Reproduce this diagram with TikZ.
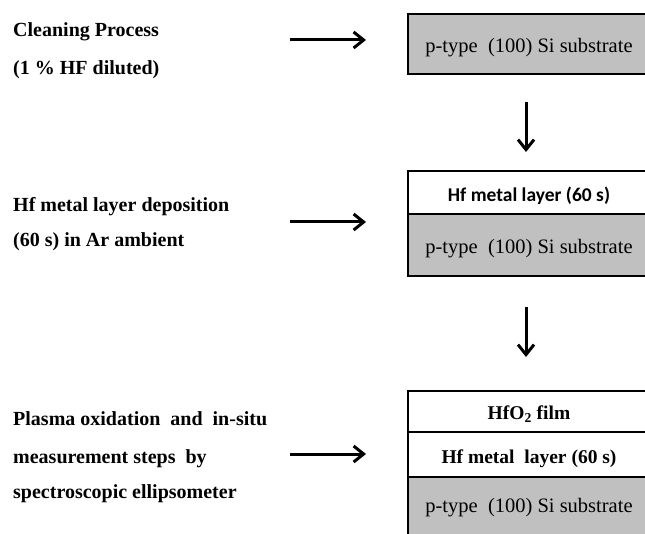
\documentclass[tikz,border=0pt]{standalone}
\usepackage{fontspec}
\setmainfont{Liberation Serif}
\newfontfamily\calfont{Carlito}
\usetikzlibrary{arrows.meta, positioning}
\definecolor{wafergray}{RGB}{192,192,192}
\tikzset{
    steptext/.style={anchor=base west, inner sep=0pt, font=\fontsize{20}{24}\selectfont\bfseries},
    layer/.style={draw, line width=2.7pt, minimum width=242pt, inner sep=0pt, outer sep=0pt, text height=17pt, text depth=0pt},
    oxlayer/.style={layer, font=\fontsize{19.5}{24}\selectfont\bfseries},
    wafer/.style={layer, fill=wafergray, minimum height=60pt, font=\fontsize{20.5}{24}\selectfont},
    flow/.style={line width=3pt, -{Straight Barb[length=10pt,width=16pt]}},
}

\begin{document}
\begin{tikzpicture}[x=1pt,y=-1pt]
            \useasboundingbox (0,0) rectangle (645,534);
            \node[steptext] (clean1) at (13,37) {Cleaning Process};
            \node[steptext] (clean2) at (13,75) {(1 \% HF diluted)};
            \node[steptext] (depo1) at (13,212) {Hf metal layer deposition};
            \node[steptext] (depo2) at (13,247) {(60 s) in Ar ambient};
            \node[steptext] (oxid1) at (13,425) {Plasma oxidation\ \ and\ \ in-situ};
            \node[steptext] (oxid2) at (13,463) {measurement steps\ \ by};
            \node[steptext] (oxid3) at (13,498) {spectroscopic ellipsometer};
            \node[wafer] (sub1) at (529,44) {p-type\ \ (100) Si substrate};
            \node[layer, minimum height=43pt, text height=19pt, font=\calfont\bfseries\fontsize{19.5}{24}\selectfont] (hf2) at (529,192.5) {Hf metal layer (60 s)};
            \node[wafer, minimum height=62pt, below=0pt of hf2] (sub2) {p-type\ \ (100) Si substrate};
            \node[oxlayer, minimum height=41pt, text height=15pt] (hfo3) at (529,411.5) {HfO\textsubscript{2} film};
            \node[oxlayer, minimum height=45pt, below=0pt of hfo3] (hf3) {Hf metal\ \ layer (60 s)};
            \node[wafer, minimum height=63pt, text height=7pt, below=0pt of hf3] (sub3) {p-type\ \ (100) Si substrate};
            \foreach \y/\n in {40/1,222/2,454/3}{
                \coordinate (in\n) at (290,\y);
                \coordinate (out\n) at (366,\y);
                \draw[flow] (in\n) -- (out\n);
            }
            \coordinate (down1) at (526,102);
            \coordinate (up2) at (526,152);
            \coordinate (down2) at (526,307);
            \coordinate (up3) at (526,357);
            \draw[flow] (down1) -- (up2);
            \draw[flow] (down2) -- (up3);
        \end{tikzpicture}
\end{document}
